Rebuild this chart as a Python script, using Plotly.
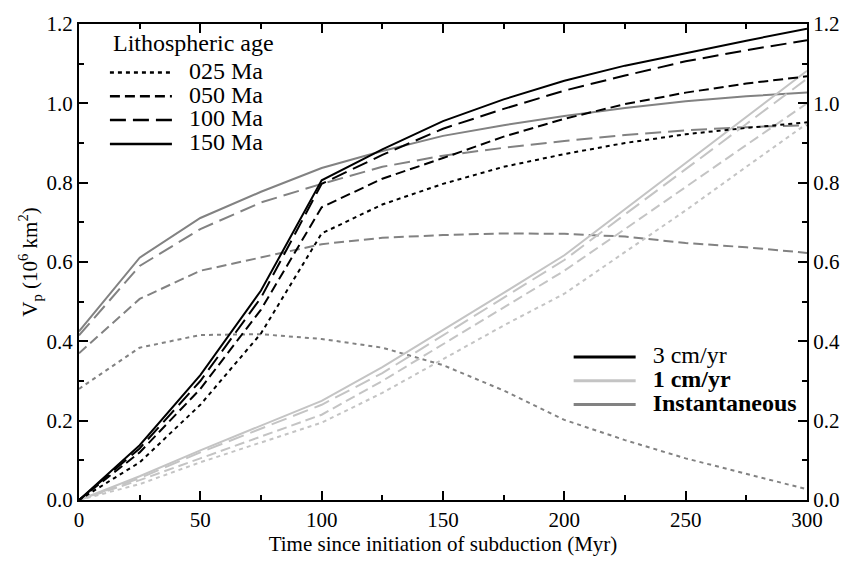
import plotly.graph_objects as go

# ---- data ----
t = [0, 25, 50, 75, 100, 125, 150, 175, 200, 225, 250, 275, 300]

ages = ["025 Ma", "050 Ma", "100 Ma", "150 Ma"]

fast_025 = [0, 0.095, 0.24, 0.42, 0.672, 0.745, 0.797, 0.84, 0.872, 0.9, 0.922, 0.938, 0.952]
fast_050 = [0, 0.12, 0.28, 0.48, 0.738, 0.81, 0.862, 0.916, 0.961, 0.998, 1.027, 1.05, 1.068]
fast_100 = [0, 0.13, 0.30, 0.51, 0.797, 0.87, 0.936, 0.986, 1.032, 1.07, 1.106, 1.134, 1.159]
fast_150 = [0, 0.138, 0.315, 0.528, 0.806, 0.884, 0.955, 1.01, 1.057, 1.095, 1.126, 1.158, 1.188]

slow_025 = [0, 0.04, 0.095, 0.145, 0.195, 0.27, 0.355, 0.44, 0.52, 0.625, 0.73, 0.84, 0.949]
slow_050 = [0, 0.05, 0.105, 0.16, 0.215, 0.30, 0.392, 0.485, 0.578, 0.683, 0.79, 0.895, 1.0]
slow_100 = [0, 0.055, 0.12, 0.18, 0.24, 0.32, 0.415, 0.51, 0.605, 0.72, 0.835, 0.948, 1.062]
slow_150 = [0, 0.06, 0.125, 0.187, 0.25, 0.335, 0.428, 0.522, 0.617, 0.733, 0.85, 0.966, 1.082]

inst_025 = [0.28, 0.384, 0.416, 0.418, 0.406, 0.384, 0.34, 0.276, 0.202, 0.151, 0.105, 0.066, 0.027]
inst_050 = [0.37, 0.507, 0.578, 0.612, 0.645, 0.661, 0.668, 0.672, 0.671, 0.664, 0.648, 0.637, 0.623]
inst_100 = [0.415, 0.59, 0.683, 0.75, 0.797, 0.84, 0.868, 0.888, 0.905, 0.92, 0.932, 0.94, 0.945]
inst_150 = [0.425, 0.611, 0.711, 0.777, 0.837, 0.88, 0.918, 0.945, 0.968, 0.988, 1.005, 1.018, 1.027]

rates = ["3 cm/yr", "<b>1 cm/yr</b>", "<b>Instantaneous</b>"]
age_legend_title = "Lithospheric age"

# ---- styles ----
FONT = "Liberation Serif"
dashes = ["4px,4px", "10px,5px", "16px,7px", "solid"]
colors = ["#000000", "#c4c4c4", "#828282"]
LW = 2
NB = "\u00a0"
LEG_TEXT = '<span style="font-size:24px">' + NB + NB + '{}</span>'

groups = [
    [fast_025, fast_050, fast_100, fast_150],
    [slow_025, slow_050, slow_100, slow_150],
    [inst_025, inst_050, inst_100, inst_150],
]

fig = go.Figure()

# draw order: instantaneous, slow, fast (fast on top)
for gi in [2, 1, 0]:
    for ai, ys in enumerate(groups[gi]):
        fig.add_trace(go.Scatter(
            x=t, y=ys, mode="lines", showlegend=False, hoverinfo="skip",
            line=dict(color=colors[gi], width=LW, dash=dashes[ai]),
        ))

# legend 1 : lithospheric age
for ai, name in enumerate(ages):
    fig.add_trace(go.Scatter(
        x=[None], y=[None], mode="lines", name=LEG_TEXT.format(name), legend="legend",
        line=dict(color="#000000", width=2.5, dash=dashes[ai]),
    ))

# legend 2 : rate
for gi, name in enumerate(rates):
    fig.add_trace(go.Scatter(
        x=[None], y=[None], mode="lines", name=LEG_TEXT.format(name), legend="legend2",
        line=dict(color=colors[gi], width=3),
    ))

# dummy trace on right axis so it is drawn
fig.add_trace(go.Scatter(x=[None], y=[None], yaxis="y2", showlegend=False,
                         hoverinfo="skip", mode="lines"))

axis_common = dict(
    showline=True, linecolor="black", linewidth=2,
    ticks="inside", ticklen=9, tickwidth=1.5, tickcolor="black",
    showgrid=False, zeroline=False,
    tickfont=dict(family=FONT, size=21, color="black"),
)

fig.update_layout(
    width=852, height=561,
    margin=dict(l=79, r=43, t=15, b=61),
    paper_bgcolor="white", plot_bgcolor="white",
    font=dict(family=FONT, size=21, color="black"),
    xaxis=dict(
        range=[0, 300], tick0=0, dtick=50, mirror="ticks",
        minor=dict(dtick=25, ticks="inside", ticklen=5, tickwidth=1.5, tickcolor="black"),
        title=dict(text="Time since initiation of subduction (Myr)",
                   font=dict(family=FONT, size=21, color="black"), standoff=2),
        **axis_common,
    ),
    yaxis=dict(
        range=[0, 1.2], tick0=0, dtick=0.2, tickformat=".1f", mirror="ticks",
        minor=dict(dtick=0.1, ticks="inside", ticklen=5, tickwidth=1.5, tickcolor="black"),
        title=dict(text="V<sub>p</sub> (10<sup>6</sup> km<sup>2</sup>)",
                   font=dict(family=FONT, size=21, color="black"), standoff=3),
        **axis_common,
    ),
    yaxis2=dict(
        range=[0, 1.2], tick0=0, dtick=0.2, tickformat=".1f",
        overlaying="y", side="right", matches="y",
        minor=dict(dtick=0.1, ticks="inside", ticklen=5, tickwidth=1.5, tickcolor="black"),
        **axis_common,
    ),
    legend=dict(
        x=0.0356, y=0.9336, xanchor="left", yanchor="top",
        bgcolor="rgba(0,0,0,0)", borderwidth=0,
        font=dict(family=FONT, size=16, color="black"),
        itemwidth=62,
    ),
    legend2=dict(
        x=0.6726, y=0.336, xanchor="left", yanchor="top",
        bgcolor="rgba(0,0,0,0)", borderwidth=0,
        font=dict(family=FONT, size=16, color="black"),
        itemwidth=62,
    ),
    annotations=[dict(
        text=age_legend_title, xref="paper", yref="paper",
        x=0.0438, y=0.9608, xanchor="left", yanchor="middle", showarrow=False,
        font=dict(family=FONT, size=24, color="black"),
    )],
)

fig.write_html("out.html")
